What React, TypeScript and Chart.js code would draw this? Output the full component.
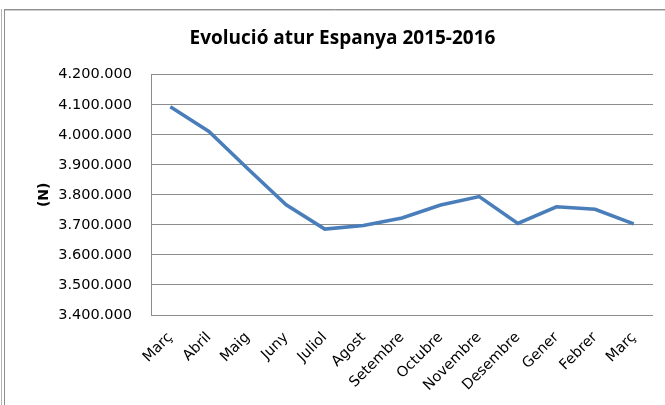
import React, { useEffect, useRef } from "react";
import { Chart, registerables } from "chart.js";

Chart.register(...registerables);

const chartTitle = "Evolució atur Espanya 2015-2016";
const yAxisTitle = "(N)";
const months = ["Març", "Abril", "Maig", "Juny", "Juliol", "Agost", "Setembre", "Octubre", "Novembre", "Desembre", "Gener", "Febrer", "Març"];
const atur = [4093000, 4011000, 3888000, 3767000, 3686000, 3698000, 3723000, 3766000, 3794000, 3705000, 3760000, 3752000, 3703000];
const yMin = 3400000;
const yMax = 4200000;
const yStep = 100000;

const fmt = (v: number) => String(Math.round(v)).replace(/\B(?=(\d{3})+(?!\d))/g, ".");

const framePlugin = {
  id: "frame",
  beforeDraw(chart: any) {
    const ctx = chart.ctx;
    ctx.save();
    ctx.lineWidth = 1;
    ctx.strokeStyle = "#b4b4b4";
    ctx.beginPath();
    ctx.moveTo(1.5, 9);
    ctx.lineTo(1.5, 405);
    ctx.stroke();
    ctx.strokeStyle = "#8e8e8e";
    ctx.beginPath();
    ctx.moveTo(4.5, 9);
    ctx.lineTo(4.5, 405);
    ctx.stroke();
    ctx.beginPath();
    ctx.moveTo(4, 9.5);
    ctx.lineTo(665, 9.5);
    ctx.stroke();
    ctx.strokeStyle = "#cfcfcf";
    ctx.beginPath();
    ctx.moveTo(5, 10.5);
    ctx.lineTo(665, 10.5);
    ctx.stroke();
    ctx.restore();
  },
};

export default function App() {
  const ref = useRef<HTMLCanvasElement | null>(null);

  useEffect(() => {
    document.body.style.margin = "0";
    const canvas = ref.current;
    if (!canvas) return;
    const chart = new Chart(canvas, {
      type: "line",
      data: {
        labels: months,
        datasets: [
          {
            data: atur,
            borderColor: "#4a7ebb",
            backgroundColor: "#4a7ebb",
            borderWidth: 3.5,
            pointRadius: 0,
            tension: 0,
            fill: false,
          },
        ],
      },
      options: {
        animation: false,
        responsive: false,
        devicePixelRatio: 1,
        layout: { padding: { left: 32, right: 12, top: 0, bottom: 0 } },
        plugins: {
          legend: { display: false },
          tooltip: { enabled: false },
          title: {
            display: true,
            text: chartTitle,
            color: "#000",
            font: { family: "'Open Sans'", size: 19, weight: "bold", lineHeight: 1.2 },
            padding: { top: 27.1, bottom: 24.8 },
          },
        },
        scales: {
          x: {
            offset: true,
            grid: { display: false },
            border: { display: false },
            ticks: {
              autoSkip: false,
              minRotation: 45,
              maxRotation: 45,
              padding: 6,
              color: "#000",
              font: { family: "'DejaVu Sans'", size: 14.5 },
            },
            afterFit(scale: any) {
              scale.height = 90;
            },
          },
          y: {
            min: yMin,
            max: yMax,
            grid: { color: "#8c8c8c", lineWidth: 1, drawTicks: false },
            border: { display: true, color: "#8c8c8c", width: 1 },
            ticks: {
              stepSize: yStep,
              padding: 19,
              color: "#000",
              font: { family: "'DejaVu Sans'", size: 14.5 },
              callback: (v: any) => fmt(Number(v)),
            },
            title: {
              display: true,
              text: yAxisTitle,
              color: "#000",
              font: { family: "'DejaVu Sans'", size: 14, weight: "bold", lineHeight: 1.2 },
              padding: { top: 3.6, bottom: 0 },
            },
            afterFit(scale: any) {
              scale.width = 119;
            },
          },
        },
      },
      plugins: [framePlugin],
    });
    return () => chart.destroy();
  }, []);

  return (
    <div style={{ width: 665, height: 405, background: "#fff" }}>
      <canvas ref={ref} width={665} height={405} style={{ display: "block" }} />
    </div>
  );
}
